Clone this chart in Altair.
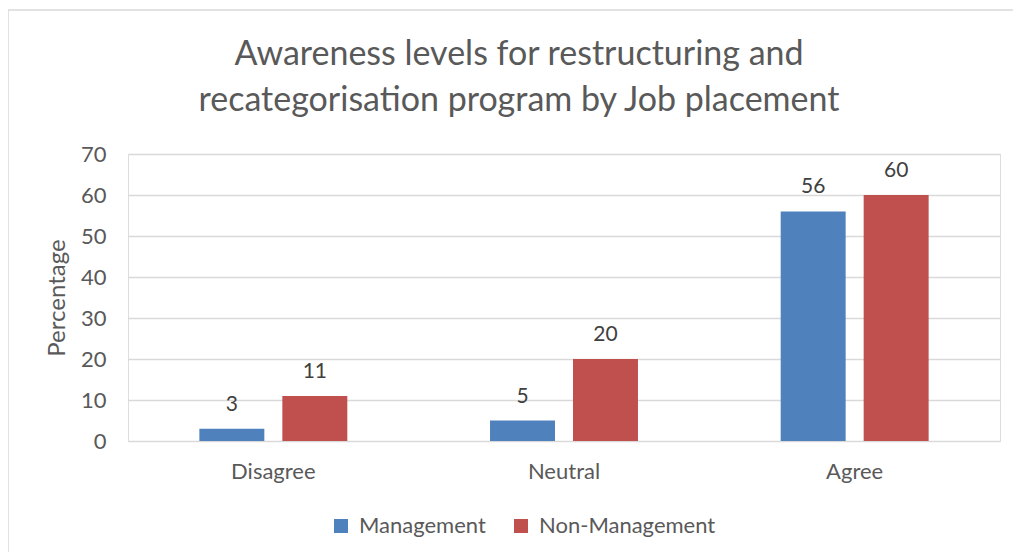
import altair as alt
import pandas as pd

categories = ["Disagree", "Neutral", "Agree"]
series = ["Management", "Non-Management"]
management = [3, 5, 56]
non_management = [11, 20, 60]
colors = ["#4F81BD", "#C0504D"]
title_lines = ["Awareness levels for restructuring and",
               "recategorisation program by Job placement"]

rows = []
for c, m, n in zip(categories, management, non_management):
    rows.append({"Response": c, "Group": series[0], "Value": m})
    rows.append({"Response": c, "Group": series[1], "Value": n})
df = pd.DataFrame(rows)

FONT = "Lato"
GREY = "#595959"

W, H = 872, 287

x = alt.X("Response:N", sort=categories, title=None,
          scale=alt.Scale(paddingInner=0, paddingOuter=0),
          axis=alt.Axis(labelAngle=0, labelFontSize=22, labelColor=GREY, labelFont=FONT,
                        ticks=False, domain=False, labelPadding=20, grid=False))
xo = alt.XOffset("Group:N", sort=series,
                 scale=alt.Scale(paddingInner=0.217, paddingOuter=0.86))
y = alt.Y("Value:Q", title="Percentage",
          scale=alt.Scale(domain=[0, 70]),
          axis=alt.Axis(values=list(range(0, 71, 10)), labelFontSize=22, labelColor=GREY,
                        labelFont=FONT, ticks=False, domain=False, labelPadding=22,
                        titleFontSize=24, titleFont=FONT, titleColor=GREY,
                        titleFontWeight="normal", titlePadding=11,
                        gridColor="#D9D9D9", gridWidth=1.3))

border = alt.Chart(pd.DataFrame({"a": [0]})).mark_rect(
    fill=None, stroke="#D9D9D9", strokeWidth=1.5, clip=False
).encode(x=alt.value(-120), x2=alt.value(W + 40), y=alt.value(-144), y2=alt.value(H + 140))

title = alt.Chart(pd.DataFrame({"a": [0]})).mark_text(
    text=title_lines, fontSize=34, font=FONT, color=GREY, align="center",
    baseline="alphabetic", lineHeight=46
).encode(x=alt.value(W / 2 - 45), y=alt.value(-89))

bars = alt.Chart(df).mark_bar().encode(
    x=x, xOffset=xo, y=y,
    color=alt.Color("Group:N", sort=series,
                    scale=alt.Scale(domain=series, range=colors),
                    legend=alt.Legend(title=None, orient="none", legendX=202, legendY=361,
                                      direction="horizontal", symbolType="square",
                                      symbolSize=196, labelFontSize=22, labelFont=FONT,
                                      labelColor=GREY, columnPadding=24, labelOffset=7,
                                      labelLimit=400, symbolStrokeWidth=0)),
)

labels = alt.Chart(df).mark_text(dy=-24, fontSize=21, font=FONT, color="#404040").encode(
    x=alt.X("Response:N", sort=categories), xOffset=alt.XOffset("Group:N", sort=series),
    y="Value:Q", text="Value:Q"
)

chart = alt.layer(border, title, bars, labels).properties(
    width=W, height=H,
    autosize=alt.AutoSizeParams(type="none"),
    padding={"left": 120, "top": 146, "right": 13, "bottom": 111},
).configure_view(stroke=None).configure(background="white")

chart.save("out.html", embed_options={"renderer": "svg", "actions": False})
